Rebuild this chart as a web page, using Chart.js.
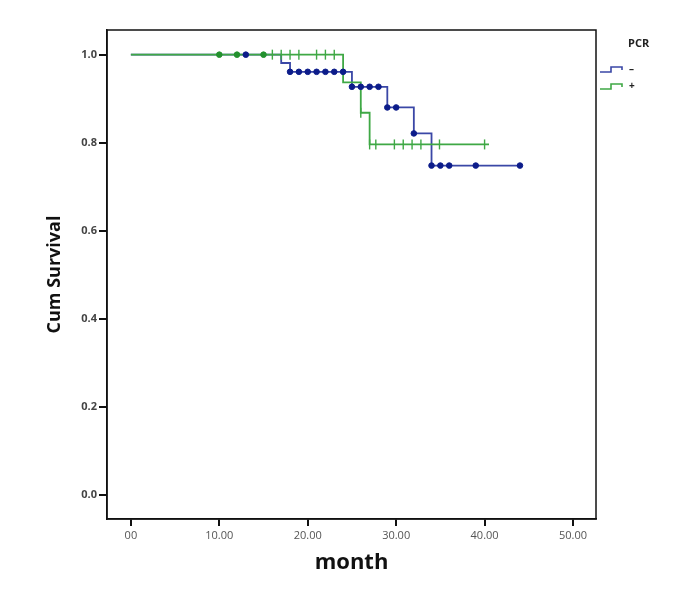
<!DOCTYPE html>
<html>
<head>
<meta charset="utf-8">
<script src="https://cdn.jsdelivr.net/npm/chart.js@4.4.1/dist/chart.umd.min.js"></script>
<style>
  html, body { margin: 0; padding: 0; background: #fff; }
  #wrap { width: 699px; height: 590px; }
</style>
</head>
<body>
<div id="wrap"><canvas id="kmChart" width="699" height="590"></canvas></div>
<script>
// x tick values (month)
const xTicks = [0, 10, 20, 30, 40, 50];
const xTickLabels = ['00', '10.00', '20.00', '30.00', '40.00', '50.00'];
const yTicks = [0, 0.2, 0.4, 0.6, 0.8, 1.0];

// PCR "-" : survival steps
const negStepMonths = [0, 17, 18, 25, 29, 32, 34, 44];
const negStepSurv   = [1.0, 0.981, 0.961, 0.927, 0.880, 0.821, 0.748, 0.748];
// PCR "-" : censored (dots)
const negCensMonths = [13, 18, 19, 20, 21, 22, 23, 24, 25, 26, 27, 28, 29, 30, 32, 34, 35, 36, 39, 44];
const negCensSurv   = [1.0, 0.961, 0.961, 0.961, 0.961, 0.961, 0.961, 0.961, 0.927, 0.927, 0.927, 0.927, 0.880, 0.880, 0.821, 0.748, 0.748, 0.748, 0.748, 0.748];

// PCR "+" : survival steps
const posStepMonths = [0, 24, 26, 27, 40.5];
const posStepSurv   = [1.0, 0.937, 0.868, 0.796, 0.796];
// PCR "+" : censored, dots
const posDotMonths = [10, 12, 15];
const posDotSurv   = [1.0, 1.0, 1.0];
// PCR "+" : censored, tick marks
const posTickMonths = [16, 17, 18, 19, 21, 22, 23, 26, 27, 27.7, 29.8, 30.8, 31.8, 32.8, 34.9, 40];
const posTickSurv   = [1.0, 1.0, 1.0, 1.0, 1.0, 1.0, 1.0, 0.868, 0.796, 0.796, 0.796, 0.796, 0.796, 0.796, 0.796, 0.796];

const blueLine = '#3a47a6';
const blueDot = '#0c1c8a';
const greenLine = '#3fa845';

const pts = (xs, ys) => xs.map((x, i) => ({ x: x, y: ys[i] }));

// frame around plot + legend
const framePlugin = {
  id: 'frame',
  afterDraw(chart) {
    const { ctx, chartArea: a } = chart;
    ctx.save();
    ctx.strokeStyle = '#111';
    ctx.lineWidth = 1.5;
    ctx.strokeRect(a.left, a.top, a.right - a.left, a.bottom - a.top);

    // legend
    ctx.fillStyle = '#222';
    ctx.font = 'bold 11px "Open Sans"';
    ctx.textBaseline = 'middle';
    ctx.fillText('PCR', 628, 44);
    const drawStep = (y, color, label) => {
      ctx.strokeStyle = color;
      ctx.lineWidth = 1.6;
      ctx.beginPath();
      ctx.moveTo(600, y + 3);
      ctx.lineTo(611, y + 3);
      ctx.lineTo(611, y - 2);
      ctx.lineTo(622, y - 2);
      ctx.lineTo(622, y + 1);
      ctx.stroke();
      ctx.fillStyle = '#222';
      ctx.font = 'bold 10px "Open Sans"';
      ctx.fillText(label, 629, y);
    };
    drawStep(69, blueLine, '–');
    drawStep(86, greenLine, '+');
    ctx.restore();
  }
};

const ctx = document.getElementById('kmChart').getContext('2d');
const chart = new Chart(ctx, {
  type: 'scatter',
  data: {
    datasets: [
      {
        label: 'neg censored',
        data: pts(negCensMonths, negCensSurv),
        pointRadius: 2.8,
        pointBackgroundColor: blueDot,
        pointBorderColor: blueDot,
        showLine: false
      },
      {
        label: 'pos dots',
        data: pts(posDotMonths, posDotSurv),
        pointRadius: 2.8,
        pointBackgroundColor: '#23912e',
        pointBorderColor: '#23912e',
        showLine: false
      },
      {
        label: 'pos ticks',
        data: pts(posTickMonths, posTickSurv),
        pointStyle: 'line',
        rotation: 90,
        pointRadius: 5,
        pointBorderWidth: 1.4,
        pointBorderColor: greenLine,
        showLine: false
      },
      {
        label: '+',
        data: pts(posStepMonths, posStepSurv),
        showLine: true,
        stepped: 'before',
        borderColor: greenLine,
        borderWidth: 1.8,
        pointRadius: 0
      },
      {
        label: '-',
        data: pts(negStepMonths, negStepSurv),
        showLine: true,
        stepped: 'before',
        borderColor: blueLine,
        borderWidth: 1.8,
        pointRadius: 0
      }
    ]
  },
  options: {
    responsive: false,
    animation: false,
    layout: { padding: { top: 30, right: 103, left: 0, bottom: 0 } },
    plugins: {
      legend: { display: false },
      tooltip: { enabled: false }
    },
    scales: {
      x: {
        type: 'linear',
        min: -2.7,
        max: 52.6,
        afterBuildTicks: s => { s.ticks = xTicks.map(v => ({ value: v })); },
        afterFit: s => { s.height = 71; },
        grid: { drawOnChartArea: false, color: '#111', lineWidth: 2, tickLength: 7 },
        border: { color: '#111', width: 1.5 },
        ticks: {
          color: '#555',
          font: { family: 'Open Sans', size: 11 },
          padding: 3,
          maxRotation: 0,
          callback: v => xTickLabels[xTicks.indexOf(v)]
        },
        title: {
          display: true,
          text: 'month',
          color: '#111',
          font: { family: 'Open Sans', size: 22, weight: 'bold' },
          padding: { bottom: 14 }
        }
      },
      y: {
        type: 'linear',
        min: -0.055,
        max: 1.056,
        afterBuildTicks: s => { s.ticks = yTicks.map(v => ({ value: v })); },
        afterFit: s => { s.width = 107; },
        grid: { drawOnChartArea: false, color: '#111', lineWidth: 2, tickLength: 8 },
        border: { color: '#111', width: 1.5 },
        ticks: {
          color: '#444',
          font: { family: 'Open Sans', size: 11, weight: 'bold' },
          padding: 2,
          callback: v => v.toFixed(1)
        },
        title: {
          display: true,
          text: 'Cum Survival',
          color: '#111',
          font: { family: 'Open Sans', size: 18, weight: 'bold' },
          padding: { top: 44 }
        }
      }
    }
  },
  plugins: [framePlugin]
});
</script>
</body>
</html>
